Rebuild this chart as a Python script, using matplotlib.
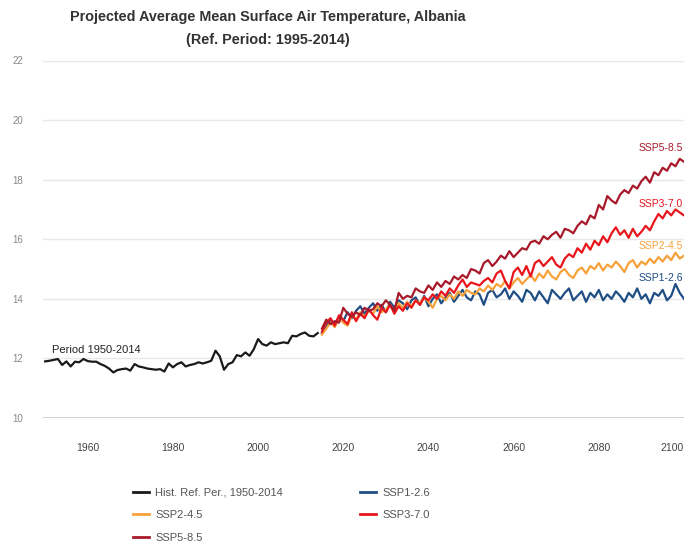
import matplotlib
matplotlib.use("Agg")
import matplotlib.pyplot as plt
from matplotlib.lines import Line2D

# historical series 1950-2014
hist_years = list(range(1950, 2015))
hist_temp = [
    11.90, 11.92, 11.95, 11.98, 11.78, 11.90, 11.73, 11.89, 11.87, 11.98,
    11.91, 11.89, 11.89, 11.81, 11.75, 11.66, 11.53, 11.61, 11.64, 11.66,
    11.59, 11.81, 11.73, 11.70, 11.66, 11.64, 11.62, 11.64, 11.56, 11.83,
    11.70, 11.81, 11.87, 11.73, 11.78, 11.81, 11.87, 11.83, 11.87, 11.92,
    12.26, 12.07, 11.62, 11.81, 11.87, 12.11, 12.07, 12.20, 12.09, 12.31,
    12.65, 12.48, 12.43, 12.54, 12.48, 12.51, 12.54, 12.51, 12.76, 12.74,
    12.82, 12.87, 12.76, 12.74, 12.85,
]

# projections 2015-2100
proj_years = list(range(2015, 2101))
ssp126 = [
    12.85, 13.05, 13.30, 13.15, 13.40, 13.25, 13.55, 13.35, 13.60, 13.75,
    13.50, 13.70, 13.85, 13.60, 13.80, 13.55, 13.90, 13.70, 13.95, 13.85,
    13.65, 13.95, 14.05, 13.80, 14.10, 13.75, 14.00, 14.15, 13.85, 14.05,
    14.20, 13.90, 14.10, 14.30, 14.05, 13.95, 14.25, 14.15, 13.80, 14.20,
    14.30, 14.05, 14.15, 14.35, 14.00, 14.25, 14.10, 13.90, 14.30, 14.20,
    13.95, 14.25, 14.05, 13.85, 14.30, 14.15, 14.00, 14.20, 14.35, 13.95,
    14.10, 14.25, 13.90, 14.20, 14.05, 14.30, 13.95, 14.15, 14.00, 14.25,
    14.10, 13.90, 14.20, 14.05, 14.35, 14.00, 14.15, 13.85, 14.20, 14.10,
    14.30, 13.95, 14.10, 14.50, 14.20, 14.00,
]
ssp245 = [
    12.80, 13.00, 13.20, 13.05, 13.35, 13.20, 13.10, 13.45, 13.30, 13.55,
    13.40, 13.60, 13.50, 13.75, 13.55, 13.65, 13.80, 13.60, 13.85, 13.70,
    13.90, 13.75, 13.95, 13.85, 14.05, 13.90, 13.70, 14.00, 14.10, 13.95,
    14.15, 14.00, 14.25, 14.10, 14.30, 14.20, 14.15, 14.35, 14.25, 14.45,
    14.30, 14.50, 14.40, 14.60, 14.35, 14.55, 14.70, 14.50, 14.65, 14.80,
    14.60, 14.85, 14.70, 14.95, 14.75, 14.65, 14.90, 15.00, 14.80, 14.70,
    14.95, 15.05, 14.85, 15.10, 15.00, 15.20, 14.95, 15.15, 15.05, 15.25,
    15.10, 14.90, 15.20, 15.30, 15.05, 15.25, 15.15, 15.35, 15.20, 15.40,
    15.25, 15.45, 15.30, 15.55, 15.35, 15.45,
]
ssp370 = [
    12.90, 13.20, 13.35, 13.10, 13.45, 13.30, 13.15, 13.55, 13.25, 13.50,
    13.35, 13.65, 13.45, 13.30, 13.70, 13.55, 13.80, 13.50, 13.75, 13.60,
    13.85, 13.70, 13.95, 13.80, 14.05, 13.95, 14.15, 14.00, 14.25, 14.10,
    14.35, 14.20, 14.45, 14.65, 14.40, 14.55, 14.50, 14.45, 14.60, 14.70,
    14.55, 14.85, 14.95, 14.60, 14.35, 14.90, 15.05, 14.80, 15.10, 14.75,
    15.20, 15.30, 15.10, 15.25, 15.40, 15.15, 15.05, 15.35, 15.50, 15.40,
    15.70, 15.55, 15.85, 15.65, 15.95, 15.80, 16.10, 15.90, 16.20, 16.40,
    16.15, 16.30, 16.05, 16.35, 16.10, 16.25, 16.45, 16.30, 16.60, 16.85,
    16.70, 16.95, 16.80, 17.00, 16.90, 16.80,
]
ssp585 = [
    13.00, 13.30, 13.15, 13.25, 13.20, 13.70, 13.50, 13.40, 13.55, 13.45,
    13.70, 13.60, 13.65, 13.85, 13.75, 13.95, 13.80, 13.60, 14.20, 14.00,
    14.10, 14.05, 14.35, 14.25, 14.20, 14.45, 14.30, 14.55, 14.40, 14.60,
    14.50, 14.75, 14.65, 14.80, 14.70, 15.00, 14.95, 14.85, 15.20, 15.30,
    15.10, 15.25, 15.45, 15.35, 15.60, 15.40, 15.55, 15.70, 15.65, 15.90,
    15.95, 15.85, 16.10, 16.00, 16.15, 16.25, 16.05, 16.35, 16.30, 16.20,
    16.45, 16.60, 16.50, 16.80, 16.70, 17.15, 17.00, 17.45, 17.30, 17.20,
    17.50, 17.65, 17.55, 17.80, 17.70, 17.95, 18.10, 17.90, 18.25, 18.15,
    18.40, 18.30, 18.55, 18.45, 18.70, 18.60,
]

x_ticks = [1960, 1980, 2000, 2020, 2040, 2060, 2080, 2100]
y_ticks = [10, 12, 14, 16, 18, 20, 22]

c_hist = "#1a1a1a"
c_126 = "#1f4e85"
c_245 = "#f7a13a"
c_370 = "#e8161c"
c_585 = "#a8192a"

plt.rcParams["font.family"] = ["Liberation Sans", "DejaVu Sans"]

fig = plt.figure(figsize=(6.84, 5.46), dpi=100)
ax = fig.add_axes([43 / 684, 1 - 418 / 546, 1 - 43 / 684, (418 - 60.5) / 546])

lw = 1.6
ax.plot(proj_years, ssp126, color=c_126, lw=lw, zorder=3)
ax.plot(proj_years, ssp245, color=c_245, lw=lw, zorder=3)
ax.plot(proj_years, ssp370, color=c_370, lw=lw, zorder=4)
ax.plot(proj_years, ssp585, color=c_585, lw=lw, zorder=5)
ax.plot(hist_years, hist_temp, color=c_hist, lw=lw, zorder=6)

ax.set_xlim(1949.5, 2100)
ax.set_ylim(10, 22)

for y in y_ticks[1:]:
    ax.axhline(y, color="#e8e8e8", lw=1.0, zorder=1)
ax.axhline(10, color="#c4c4c4", lw=1.8, zorder=2)

for s in ax.spines.values():
    s.set_visible(False)

ax.set_yticks(y_ticks)
ax.set_yticklabels([str(v) for v in y_ticks])
ax.set_xticks(x_ticks)
ax.set_xticklabels([str(v) for v in x_ticks])
ax.tick_params(axis="y", length=0, pad=14, labelsize=7, labelcolor="#888888")
ax.tick_params(axis="x", length=0, pad=18, labelsize=7.5, labelcolor="#444444")
ax.get_xticklabels()[-1].set_horizontalalignment("right")

# series labels at right end of the lines
ax.text(2089.3, 19.06, "SSP5-8.5", color=c_585, fontsize=7.5, va="center")
ax.text(2089.3, 17.18, "SSP3-7.0", color=c_370, fontsize=7.5, va="center")
ax.text(2089.3, 15.77, "SSP2-4.5", color=c_245, fontsize=7.5, va="center")
ax.text(2089.3, 14.70, "SSP1-2.6", color=c_126, fontsize=7.5, va="center")
ax.text(1951.6, 12.28, "Period 1950-2014", color="#222222", fontsize=8, va="center")

# title
fig.text(268 / 684, 1 - 17 / 546, "Projected Average Mean Surface Air Temperature, Albania",
         ha="center", va="center", fontsize=10.4, fontweight="bold", color="#333333")
fig.text(268 / 684, 1 - 40 / 546, "(Ref. Period: 1995-2014)",
         ha="center", va="center", fontsize=10.4, fontweight="bold", color="#333333")

# legend, two columns
def handle(c):
    return Line2D([], [], color=c, lw=2)

leg_kw = dict(loc="upper left", frameon=False, fontsize=8, handlelength=1.4,
              handletextpad=0.6, labelspacing=1.15, labelcolor="#555555",
              borderaxespad=0, borderpad=0)
fig.legend([handle(c_hist), handle(c_245), handle(c_585)],
           ["Hist. Ref. Per., 1950-2014", "SSP2-4.5", "SSP5-8.5"],
           bbox_to_anchor=(133 / 684, 1 - 487.5 / 546), **leg_kw)
fig.legend([handle(c_126), handle(c_370)],
           ["SSP1-2.6", "SSP3-7.0"],
           bbox_to_anchor=(360 / 684, 1 - 487.5 / 546), **leg_kw)

fig.savefig("out.png", dpi=100)
